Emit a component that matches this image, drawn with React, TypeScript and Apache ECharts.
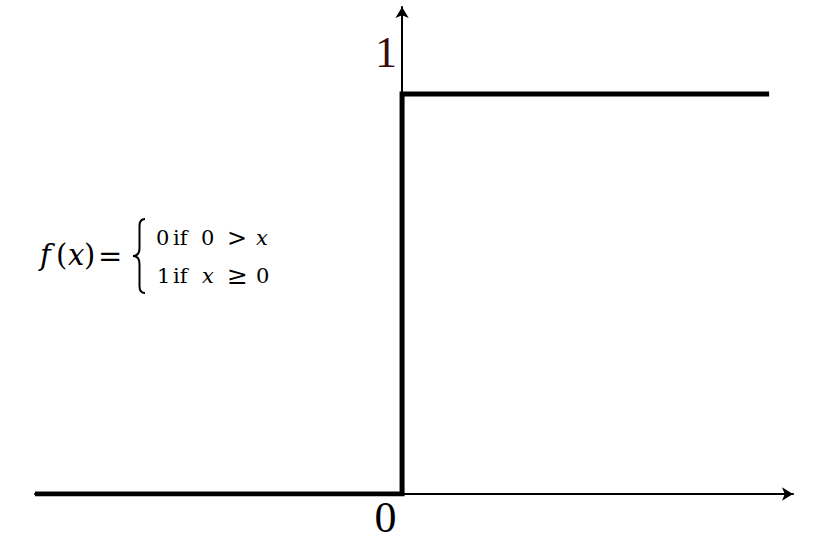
import React, { useEffect, useRef } from "react";
import * as echarts from "echarts";

// Step function data (Heaviside)
const stepX = [-1, 0, 0, 1];
const stepY = [0, 0, 1, 1];

// Axis tick labels drawn at these data points
const tickLabelText = ["0", "1"];
const tickLabelX = [0, 0];
const tickLabelY = [0, 1];

const xMin = -1;
const xMax = 1.065;
const yMin = 0;
const yMax = 1.2175;

const SERIF = "Liberation Serif";
const MATH = "DejaVu Serif";

const BRACE_D =
  "M12,0 C8,0 6.5,2.5 6.5,7 L6.5,29 C6.5,34 4,37 0,37 C4,37 6.5,40 6.5,45 L6.5,67 C6.5,71.5 8,74 12,74";

let braceRegistered = false;
function ensureBrace() {
  if (braceRegistered) return;
  echarts.graphic.registerShape("brace", echarts.graphic.extendPath(BRACE_D, {}));
  braceRegistered = true;
}

function tok(
  text: string,
  x: number,
  y: number,
  size: number,
  italic = false,
  fill = "#000",
  align = "left",
  family = MATH
) {
  return {
    type: "text",
    x,
    y,
    silent: true,
    style: {
      text,
      fill,
      fontFamily: family,
      fontSize: size,
      fontStyle: italic ? "italic" : "normal",
      textAlign: align,
      textVerticalAlign: "middle",
    },
  };
}

export default function App() {
  const ref = useRef<HTMLDivElement>(null);

  useEffect(() => {
    if (!ref.current) return;
    ensureBrace();
    const chart = echarts.init(ref.current, undefined, { renderer: "svg" });

    const stepData = stepX.map((x, i) => [x, stepY[i]]);

    const yTop = 237.5;
    const yBot = 275.5;

    const formula = [
      tok("f", 40, 255, 29, true),
      tok("(", 56, 255, 29),
      tok("x", 68, 255, 29, true),
      tok(")", 84, 255, 29),
      tok("=", 98, 256, 29),
      {
        type: "brace",
        x: 133,
        y: 219,
        silent: true,
        style: { fill: "none", stroke: "#000", lineWidth: 2 },
      },
      tok("0", 156, yTop, 21),
      tok("if", 173, yTop, 21),
      tok("0", 201, yTop, 21),
      tok(">", 227, yTop, 24),
      tok("x", 256, yTop, 21, true),
      tok("1", 157, yBot, 21),
      tok("if", 173, yBot, 21),
      tok("x", 202, yBot, 21, true),
      tok("≥", 227, yBot, 25),
      tok("0", 256, yBot, 21),
    ];

    chart.setOption({
      animation: false,
      backgroundColor: "#fff",
      grid: { left: 35, right: 22, top: 7, bottom: 60 },
      xAxis: {
        type: "value",
        min: xMin,
        max: xMax,
        axisLine: {
          onZero: true,
          symbol: ["none", "arrow"],
          symbolSize: [10, 11],
          lineStyle: { color: "#000", width: 2 },
        },
        axisTick: { show: false },
        axisLabel: { show: false },
        splitLine: { show: false },
      },
      yAxis: {
        type: "value",
        min: yMin,
        max: yMax,
        axisLine: {
          onZero: true,
          symbol: ["none", "arrow"],
          symbolSize: [10, 11],
          lineStyle: { color: "#000", width: 2 },
        },
        axisTick: { show: false },
        axisLabel: { show: false },
        splitLine: { show: false },
      },
      series: [
        {
          type: "line",
          data: stepData,
          showSymbol: false,
          symbol: "none",
          lineStyle: { color: "#000", width: 5, cap: "butt", join: "miter" },
          z: 5,
        },
      ],
      graphic: formula,
    });

    // tick labels placed through the axes' own scales
    const offsets = [
      [-16.5, 23.5],
      [-16, -41.5],
    ];
    const colors = ["#000", "#3a0c0c"];
    const labels = tickLabelText.map((t, i) => {
      const p = chart.convertToPixel({ gridIndex: 0 }, [tickLabelX[i], tickLabelY[i]]) as number[];
      return tok(t, p[0] + offsets[i][0], p[1] + offsets[i][1], 44, false, colors[i], "center", SERIF);
    });
    chart.setOption({ graphic: [...formula, ...labels] });

    return () => chart.dispose();
  }, []);

  return (
    <div
      ref={ref}
      style={{ position: "fixed", left: 0, top: 0, width: 815, height: 554, background: "#fff" }}
    />
  );
}
